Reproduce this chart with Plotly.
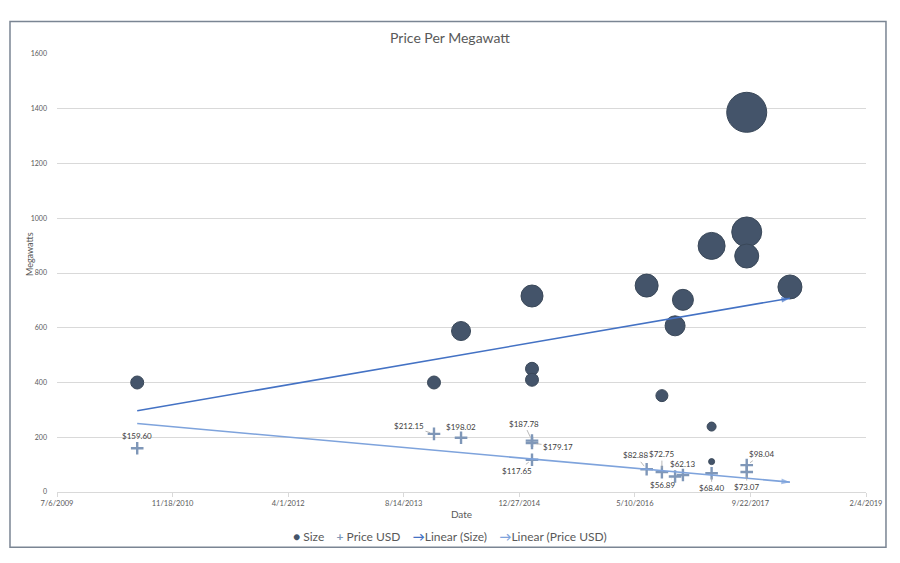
import plotly.graph_objects as go

# ---------------- data ----------------
size_dates = ["2010-06-18", "2013-12-23", "2014-04-19", "2015-02-20", "2015-02-20",
              "2015-02-20", "2016-06-30", "2016-09-04", "2016-10-31", "2016-12-04",
              "2017-04-07", "2017-04-07", "2017-04-07", "2017-09-06", "2017-09-06",
              "2017-09-06", "2018-03-12"]
size_mw = [400, 400, 588, 716, 450, 410, 754, 352, 607, 702, 899, 239, 111, 1387, 950, 862, 749]
bubble_size = [13, 13, 19, 22, 13, 13, 23, 12, 20, 21, 27, 9, 6, 40, 30, 24, 24]

price_dates = ["2010-06-18", "2013-12-23", "2014-04-19", "2015-02-20", "2015-02-20",
               "2015-02-20", "2016-06-30", "2016-09-04", "2016-10-31", "2016-12-04",
               "2017-04-07", "2017-09-06", "2017-09-06"]
price_usd = [159.60, 212.15, 198.02, 187.78, 179.17, 117.65, 82.88, 72.75, 56.89,
             62.13, 68.40, 73.07, 98.04]

trend_dates = ["2010-06-18", "2018-03-12"]
trend_size = [297, 708]
trend_price = [250, 36]

y_ticks = [0, 200, 400, 600, 800, 1000, 1200, 1400, 1600]

series_names = ["Size", "Price USD", "Linear (Size)", "Linear (Price USD)"]

# label placement (pixel offsets from point, leader line flag) -- styling only
label_offsets = [(0, -12, False), (-25, -8, True), (0, -11, False), (-8, -17, True),
                 (26, 4, True), (-15, 11, True), (-11, -14, True), (0, -18, True),
                 (-13, 9, True), (0, -11, False), (0, 15, True), (0, 15, True),
                 (15, -11, True)]

FONT = "Lato"
TXT = "#595959"
BUBBLE = "#44546A"
CROSS = "#7F97B8"
TR1 = "#4472C4"
TR2 = "#7EA3DC"

fig = go.Figure()

# bubbles
fig.add_trace(go.Scatter(
    x=size_dates, y=size_mw, mode="markers", name=series_names[0],
    marker=dict(size=bubble_size, sizemode="diameter", color=BUBBLE,
                line=dict(color="#3A4859", width=1), opacity=1),
))
# price crosses
fig.add_trace(go.Scatter(
    x=price_dates, y=price_usd, mode="markers", name=series_names[1],
    marker=dict(symbol="cross-thin", size=9, color=CROSS,
                line=dict(color=CROSS, width=2.4)),
))
# trend lines
for ys, col, nm in [(trend_size, TR1, series_names[2]), (trend_price, TR2, series_names[3])]:
    fig.add_trace(go.Scatter(
        x=trend_dates, y=ys, mode="lines", name=nm,
        line=dict(color=col, width=1.6),
    ))
    fig.add_trace(go.Scatter(
        x=trend_dates, y=ys, mode="markers", hoverinfo="skip",
        marker=dict(symbol=["circle", "arrow"], size=[0, 9], angleref="previous",
                    color=col, line=dict(width=0)),
    ))

annotations = []
for d, v, (dx, dy, leader) in zip(price_dates, price_usd, label_offsets):
    txt = "$%.2f" % v
    if leader:
        annotations.append(dict(
            x=d, y=v, text=txt, showarrow=True, arrowhead=0, arrowwidth=0.8,
            arrowcolor="#A6A6A6", ax=dx, ay=dy, standoff=4, startstandoff=0,
            font=dict(family=FONT, size=8, color="#404040"),
        ))
    else:
        annotations.append(dict(
            x=d, y=v, text=txt, showarrow=False, xshift=dx, yshift=-dy,
            font=dict(family=FONT, size=8, color="#404040"),
        ))

# y-axis title
annotations.append(dict(
    xref="paper", yref="paper", x=(29 - 57) / 809, y=(492.5 - 254) / 439,
    text="Megawatts", textangle=-90,
    showarrow=False, xanchor="center", yanchor="middle",
    font=dict(family=FONT, size=9, color=TXT),
))

# compact Excel-style legend
sp = "&nbsp;" * 4
legend_text = (
    f"<span style='color:{BUBBLE}'>●</span> {series_names[0]}{sp}"
    f"<span style='color:{CROSS}'><b>+</b></span> {series_names[1]}{sp}"
    f"<span style='color:{TR1}'><b>→</b></span>{series_names[2]}{sp}"
    f"<span style='color:{TR2}'><b>→</b></span>{series_names[3]}"
)
annotations.append(dict(
    xref="paper", yref="paper", x=(450 - 57) / 809, y=(492.5 - 537) / 439,
    text=legend_text, showarrow=False, xanchor="center", yanchor="middle",
    font=dict(family=FONT, size=12, color=TXT),
))

fig.update_layout(
    width=900, height=563,
    margin=dict(l=57, r=34, t=54, b=71),
    paper_bgcolor="white", plot_bgcolor="white",
    font=dict(family=FONT, color=TXT),
    title=dict(text="Price Per Megawatt", x=0.5, xanchor="center",
               y=1 - 38 / 563, yanchor="middle",
               font=dict(family=FONT, size=14, color=TXT)),
    showlegend=False,
    annotations=annotations,
    shapes=[dict(type="rect", xref="paper", yref="paper",
                 x0=-0.0581, x1=1.0247, y0=-0.1264, y1=1.0740,
                 line=dict(color="#7A8593", width=1.5), layer="below")],
)

fig.update_xaxes(
    type="date", range=["2009-07-06", "2019-02-04"],
    tick0="2009-07-06", dtick=500 * 86400000, tickformat="%-m/%-d/%Y",
    showgrid=False, showline=True, linecolor="#D9D9D9", linewidth=1,
    ticks="outside", ticklen=4, tickcolor="#D9D9D9",
    tickfont=dict(family=FONT, size=7.5, color=TXT),
    title=dict(text="Date", font=dict(family=FONT, size=10, color=TXT), standoff=3),
    zeroline=False,
)
fig.update_yaxes(
    range=[0, 1600], tickvals=y_ticks,
    showgrid=True, gridcolor="#D9D9D9", gridwidth=1,
    showline=False, zeroline=False, ticks="",
    ticklabelstandoff=9,
    tickfont=dict(family=FONT, size=7, color=TXT),
)

fig.write_html("out.html", config={"displayModeBar": False},
               post_script="document.body.style.margin='0';")
